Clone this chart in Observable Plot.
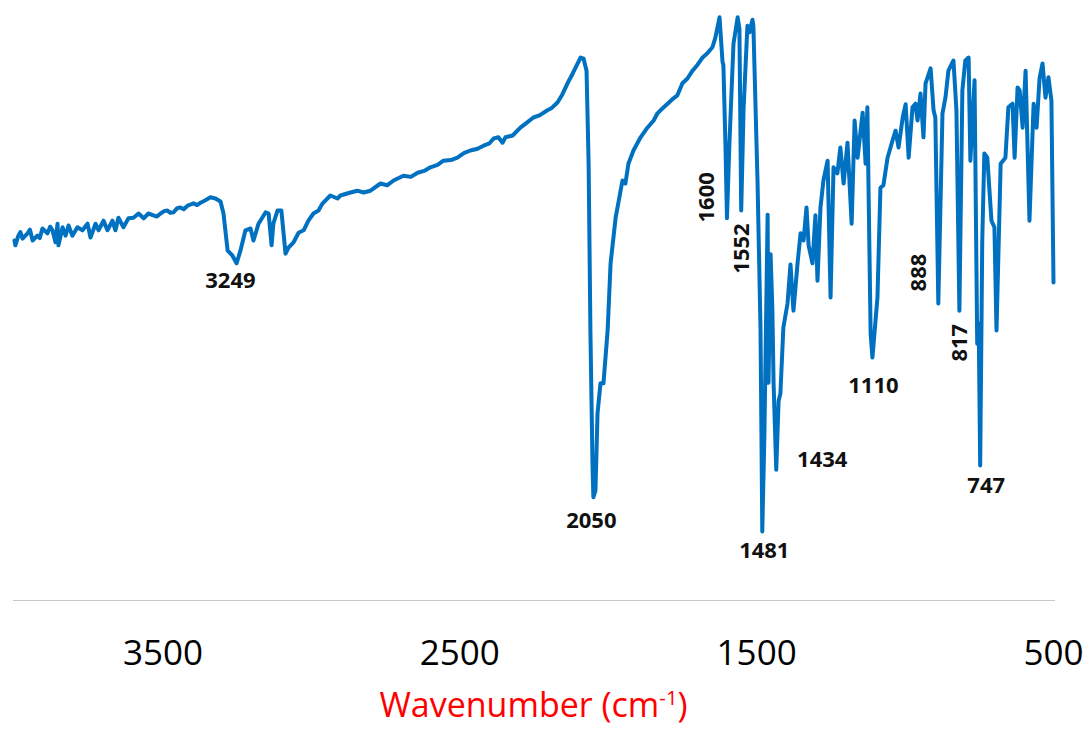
<!DOCTYPE html>
<html>
<head>
<meta charset="utf-8">
<script src="https://cdn.jsdelivr.net/npm/d3@7"></script>
<script src="https://cdn.jsdelivr.net/npm/@observablehq/plot@0.6"></script>
<style>
  body { margin: 0; background: #ffffff; font-family: "Open Sans", sans-serif; }
  #xlabel { width: 1067px; text-align: center; color: #FF0000; font-size: 34px; line-height: 40px; margin-top: 4px; }
  #xlabel sup { font-size: 0.6em; line-height: 0; }
</style>
</head>
<body>
<div id="chart"></div>
<div id="xlabel">Wavenumber (cm<sup>-1</sup>)</div>
<script>
// Wavenumber (cm-1), high to low
const wavenumber = [
  4000,3997,3987,3980,3973,3956,3948,3939,3923,3915,
  3906,3889,3880,3872,3862,3855,3852,3838,3828,3818,
  3805,3788,3771,3754,3744,3727,3717,3700,3687,3670,
  3660,3650,3633,3616,3599,3582,3565,3549,3532,3520,
  3508,3496,3485,3475,3464,3452,3441,3430,3417,3407,
  3397,3385,3373,3357,3340,3323,3306,3296,3282,3266,
  3252,3239,3222,3205,3195,3178,3154,3144,3134,3128,
  3114,3101,3087,3077,3060,3043,3026,3010,2993,2976,
  2962,2936,2912,2902,2868,2845,2824,2801,2767,2745,
  2723,2690,2665,2642,2620,2599,2575,2555,2530,2508,
  2485,2464,2440,2420,2400,2386,2370,2356,2346,2322,
  2296,2275,2252,2230,2205,2190,2171,2155,2137,2120,
  2110,2093,2083,2073,2066,2060,2053,2050,2043,2036,
  2026,2016,2002,1992,1975,1952,1942,1932,1915,1891,
  1868,1847,1834,1824,1800,1780,1767,1750,1733,1716,
  1699,1682,1666,1649,1639,1625,1615,1612,1605,1600,
  1592,1578,1564,1558,1552,1544,1531,1524,1514,1511,
  1497,1487,1481,1474,1463,1460,1453,1447,1443,1434,
  1426,1420,1410,1396,1386,1376,1362,1352,1342,1332,
  1325,1312,1302,1295,1285,1275,1261,1251,1241,1228,
  1218,1207,1194,1180,1170,1160,1143,1133,1127,1116,
  1110,1093,1083,1073,1059,1042,1032,1022,1008,998,
  988,975,965,958,948,938,931,914,904,898,
  888,874,864,854,837,827,817,807,797,786,
  780,766,757,752,747,740,733,723,709,699,
  692,678,662,652,638,631,621,614,604,594,
  581,567,557,547,537,527,517,507,500
];
// Transmittance (arbitrary %)
const transmittance = [
  60.0,59.2,60.8,61.4,60.3,61.2,61.8,60.0,60.8,60.4,
  62.0,61.2,62.3,61.7,59.7,62.8,59.2,62.2,60.8,62.5,
  60.8,62.2,61.7,62.8,60.5,62.8,61.7,63.3,61.7,63.3,
  61.7,63.8,62.2,63.7,63.8,64.5,63.7,64.5,64.2,64.0,
  64.5,64.9,65.0,64.6,64.7,65.4,65.5,65.2,65.8,66.0,
  66.2,65.9,66.3,66.7,67.2,67.0,66.5,64.5,58.3,57.5,
  56.2,58.3,61.7,62.0,60.0,62.8,64.7,64.5,59.2,62.8,
  65.0,65.0,57.8,58.8,59.7,61.3,61.7,63.3,64.5,65.0,
  66.2,67.5,67.0,67.5,68.0,68.3,68.0,68.3,69.5,69.2,
  70.0,70.8,70.6,71.3,71.6,72.2,72.6,73.3,73.4,73.8,
  74.6,75.0,75.3,75.8,76.2,77.0,77.2,76.3,77.2,77.5,
  78.8,79.6,80.5,80.9,81.7,82.1,83.0,84.3,86.2,87.8,
  88.8,90.5,90.3,88.3,72.8,45.0,22.8,17.2,18.3,31.2,
  36.2,36.2,45.0,56.2,63.8,70.0,69.5,72.8,75.0,77.2,
  78.8,80.0,81.2,81.7,82.8,83.7,84.2,86.2,87.0,88.3,
  89.3,90.5,91.2,92.2,93.8,97.2,89.8,89.2,75.8,63.7,
  75.8,92.8,97.2,95.3,65.0,82.0,95.8,94.7,96.8,95.8,
  69.8,45.5,11.5,27.3,64.3,36.3,57.7,48.5,36.3,21.8,
  33.3,34.5,45.5,49.5,56.0,48.3,56.3,61.2,60.0,65.5,
  59.2,56.2,64.2,53.3,65.5,70.0,73.3,50.5,72.2,71.2,
  75.5,69.5,76.3,62.8,80.0,73.8,81.3,72.8,82.2,44.5,
  40.5,50.5,68.8,69.2,73.8,76.7,78.3,75.5,80.5,82.7,
  73.8,82.2,82.8,80.0,84.5,77.2,86.2,88.7,81.7,80.5,
  49.5,81.2,83.8,88.3,90.0,81.7,48.3,85.0,90.0,90.5,
  73.3,86.7,42.8,46.2,22.5,60.0,74.5,73.8,63.3,62.2,
  45.0,72.8,73.8,82.2,82.8,73.8,85.5,85.0,78.8,88.3,
  63.3,82.8,78.8,87.0,89.5,83.8,87.2,83.3,53.0
];
// Annotated peaks
const peakLabels = ["3249","2050","1600","1552","1481","1434","1110","888","817","747"];
const peakWavenumbers = [3249,2050,1600,1552,1481,1434,1110,888,817,747];
// x-axis tick values
const tickValues = [3500, 2500, 1500, 500];

const spectrum = wavenumber.map((w, i) => ({w, t: transmittance[i]}));
function dipT(w) {
  let best = Infinity;
  for (const d of spectrum) if (Math.abs(d.w - w) <= 12 && d.t < best) best = d.t;
  return best;
}
const peaks = peakWavenumbers.map((w, i) => ({w, label: peakLabels[i], t: dipT(w)}));

// label offsets (dx, dy, rotate) relative to each dip, in pixels
const labelLayout = {
  "3249": [-7, 18, 0],
  "2050": [-2, 24, 0],
  "1481": [2, 19, 0],
  "1434": [46, -10, 0],
  "1110": [1, 28, 0],
  "747":  [6, 20, 0],
  "1600": [-20, -21, -90],
  "1552": [1, 38, -90],
  "888":  [-19, -31, -90],
  "817":  [1, 32, -90]
};

const labelMarks = peaks.map(p => {
  const [dx, dy, rotate] = labelLayout[p.label];
  return Plot.text([p], {
    x: "w", y: "t", text: "label", dx, dy, rotate,
    fontSize: 22, fontWeight: "bold", fill: "#111111",
    textAnchor: "middle", lineAnchor: "middle"
  });
});

const chart = Plot.plot({
  width: 1090,
  height: 680,
  marginTop: 0,
  marginBottom: 80,
  marginLeft: 13,
  marginRight: 35,
  style: {fontFamily: '"Open Sans", sans-serif', background: "#ffffff", overflow: "visible"},
  x: {domain: [4000, 500], range: [14, 1053]},
  y: {domain: [0, 100], range: [600, 0], axis: null},
  marks: [
    Plot.ruleY([0], {stroke: "#C8C8C8", strokeWidth: 1.2}),
    Plot.axisX({ticks: tickValues, tickSize: 0, tickPadding: 40, fontSize: 35, tickFormat: d => String(d), label: null, fill: "#000000"}),
    Plot.line(spectrum, {x: "w", y: "t", stroke: "#0070C0", strokeWidth: 4, strokeLinejoin: "round", strokeLinecap: "round"}),
    ...labelMarks
  ]
});
document.getElementById("chart").appendChild(chart);
</script>
</body>
</html>
